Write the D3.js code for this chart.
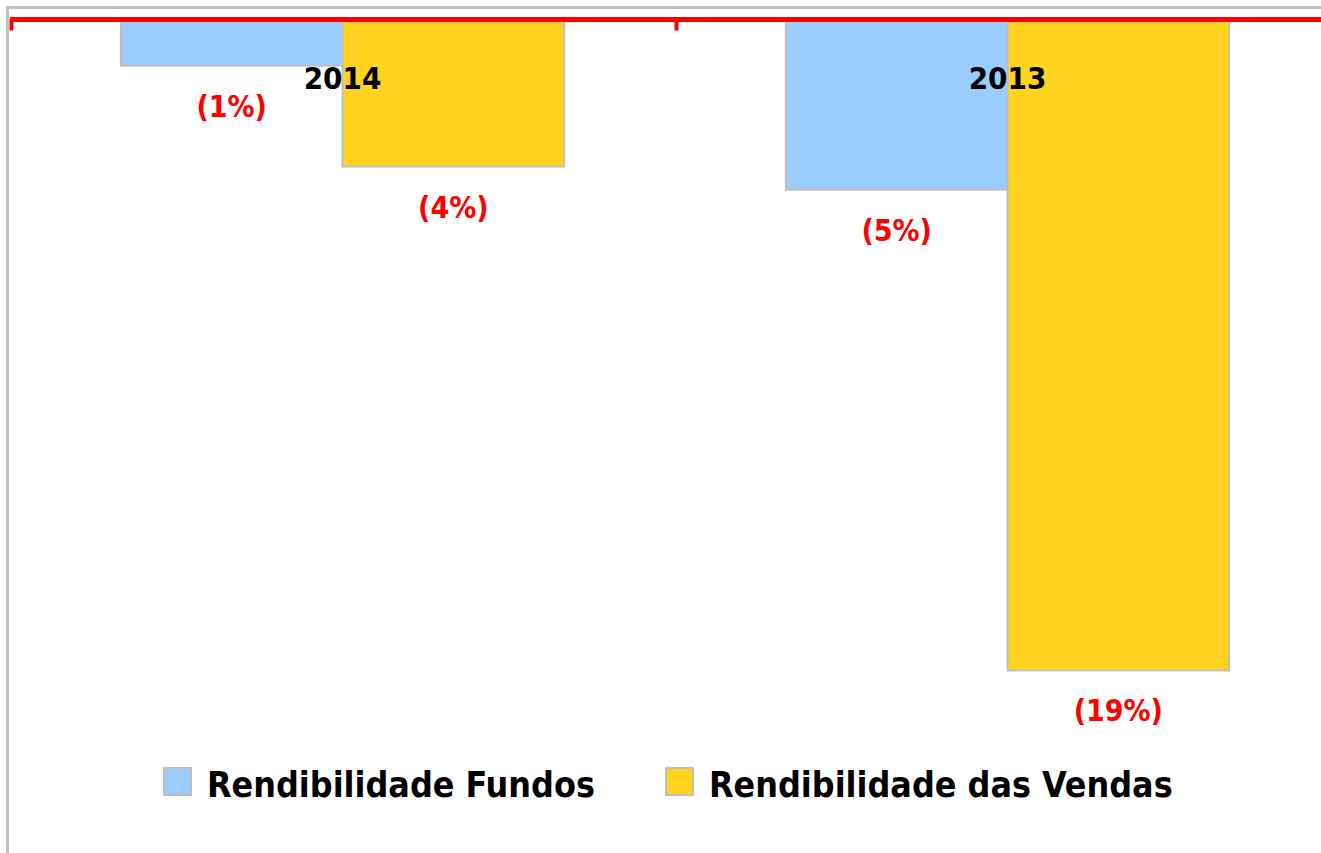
<!DOCTYPE html>
<html>
<head>
<meta charset="utf-8">
<script src="https://cdn.jsdelivr.net/npm/d3@7"></script>
<style>
  body { margin: 0; background: #fff; }
  svg { display: block; }
</style>
</head>
<body>
<div id="chart"></div>
<script>
// data (percent)
const years = ["2014", "2013"];
const seriesNames = ["Rendibilidade Fundos", "Rendibilidade das Vendas"];
const fundos = [-1.34, -4.94];
const vendas = [-4.27, -18.9];
const valueLabels = [["(1%)", "(4%)"], ["(5%)", "(19%)"]];

const colors = ["#99CCFF", "#FFD320"];
const width = 1321, height = 853;
const font = "'Liberation Sans Narrow','DejaVu Sans Condensed',Roboto,sans-serif";

const svg = d3.select("#chart").append("svg")
    .attr("width", width)
    .attr("height", height);

// frame
svg.append("path")
    .attr("d", "M7.5,853 V7.5 H1321")
    .attr("fill", "none")
    .attr("stroke", "#c0c0c0")
    .attr("stroke-width", 3);

// scales
const x0 = d3.scaleBand()
    .domain(years)
    .range([10, 1340])
    .paddingInner(0)
    .paddingOuter(0);

const x1 = d3.scaleBand()
    .domain([0, 1])
    .range([0, x0.bandwidth()])
    .paddingInner(0)
    .paddingOuter(0.5);

const y = d3.scaleLinear()
    .domain([0, -24.2])
    .range([19.5, 853]);

// bars
const rows = years.map((yr, i) => ({ year: yr, values: [fundos[i], vendas[i]], labels: valueLabels[i] }));

const groups = svg.append("g").selectAll("g")
    .data(rows)
    .enter().append("g")
    .attr("transform", d => "translate(" + x0(d.year) + ",0)");

groups.selectAll("rect")
    .data(d => d.values.map((v, k) => ({ k: k, v: v })))
    .enter().append("rect")
    .attr("x", d => x1(d.k))
    .attr("y", y(0))
    .attr("width", x1.bandwidth())
    .attr("height", d => y(d.v) - y(0))
    .attr("fill", d => colors[d.k])
    .attr("stroke", "#bfbfbf")
    .attr("stroke-width", 2);

// value labels
groups.selectAll("text.val")
    .data(d => d.values.map((v, k) => ({ k: k, v: v, t: d.labels[k] })))
    .enter().append("text")
    .attr("class", "val")
    .attr("x", d => x1(d.k) + x1.bandwidth() / 2)
    .attr("y", d => y(d.v) + 51)
    .attr("text-anchor", "middle")
    .style("font-family", font)
    .style("font-weight", "bold")
    .style("font-size", "30px")
    .attr("fill", "#ff0000")
    .text(d => d.t);

// axis (red, on top)
const axis = d3.axisTop(x0).tickSize(0).tickFormat("");
const gAxis = svg.append("g")
    .attr("transform", "translate(0," + y(0) + ")")
    .call(axis);
gAxis.select(".domain")
    .attr("d", "M10,0 H1340")
    .attr("stroke", "#ff0000")
    .attr("stroke-width", 5);

// tick marks between categories
gAxis.selectAll("line.tk")
    .data([10, x0("2013")])
    .enter().append("line")
    .attr("class", "tk")
    .attr("x1", d => d + 1.5).attr("x2", d => d + 1.5)
    .attr("y1", 0).attr("y2", 11)
    .attr("stroke", "#ff0000")
    .attr("stroke-width", 4);

// category labels
svg.append("g").selectAll("text")
    .data(years)
    .enter().append("text")
    .attr("x", d => x0(d) + x0.bandwidth() / 2)
    .attr("y", 89)
    .attr("text-anchor", "middle")
    .style("font-family", font)
    .style("font-weight", "bold")
    .style("font-size", "31px")
    .attr("fill", "#000")
    .text(d => d);

// legend
const legendX = [164, 666];
const legend = svg.append("g").selectAll("g")
    .data(seriesNames)
    .enter().append("g")
    .attr("transform", (d, i) => "translate(" + legendX[i] + ",768)");

legend.append("rect")
    .attr("x", 0).attr("y", 0)
    .attr("width", 27).attr("height", 27)
    .attr("fill", (d, i) => colors[i])
    .attr("stroke", "#bfbfbf")
    .attr("stroke-width", 2);

legend.append("text")
    .attr("x", 43)
    .attr("y", 29)
    .style("font-family", font)
    .style("font-weight", "bold")
    .style("font-size", "35.5px")
    .attr("fill", "#000")
    .text(d => d);
</script>
</body>
</html>
